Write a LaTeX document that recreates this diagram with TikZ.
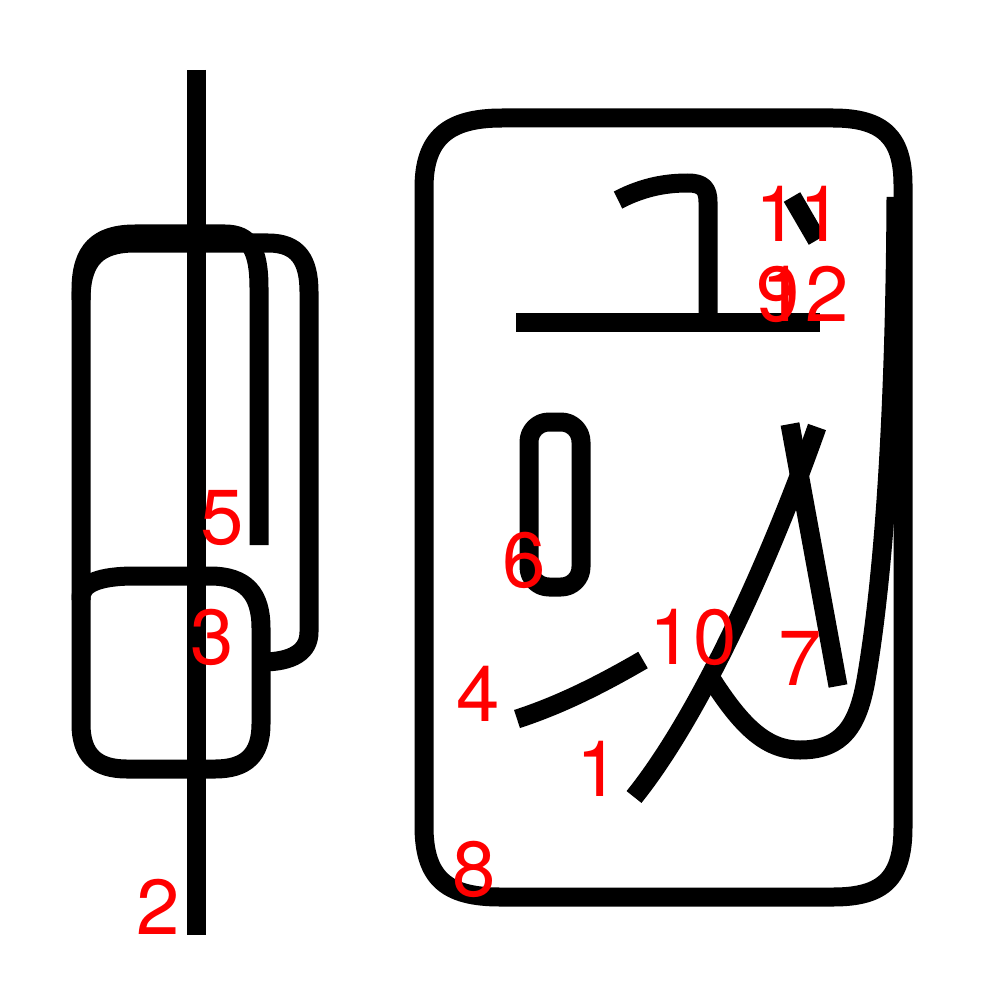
\documentclass[tikz,border=0pt]{standalone}
\usepackage{fontspec}
\setmainfont{TeX Gyre Heros}
\begin{document}
\begin{tikzpicture}[x=1pt,y=-1pt,
  stroke/.style={draw=black,line width=19pt,line cap=butt,line join=round},
  num/.style={text=red,anchor=base,inner sep=0pt,font=\fontsize{78}{78}\selectfont}]
\useasboundingbox (0,0) rectangle (1000,1000);
% left figure
\draw[stroke] (81,600) -- (81,290) .. controls (81,250) and (98,234) .. (135,234) -- (225,234) .. controls (250,234) and (259,250) .. (259,288) -- (259,545);
\draw[stroke] (81,300) .. controls (81,259) and (98,243) .. (135,243) -- (268,243) .. controls (298,243) and (309,260) .. (309,292) -- (309,632) .. controls (309,652) and (292,662) .. (262,662);
\draw[stroke] (81,660) -- (81,598) .. controls (81,583) and (100,576) .. (135,576) -- (210,576) .. controls (246,576) and (261,594) .. (261,628) -- (261,724) .. controls (261,755) and (246,769) .. (215,769) -- (127,769) .. controls (96,769) and (81,755) .. (81,724) -- cycle;
\draw[stroke] (196,70) -- (196,935);
% right figure
\draw[stroke] (424,826) -- (424,188) .. controls (424,138) and (448,118) .. (502,118) -- (833,118) .. controls (884,118) and (903,138) .. (903,185) -- (903,827) .. controls (903,878) and (884,897) .. (833,897) -- (500,897) .. controls (446,897) and (424,878) .. (424,826) -- cycle;
\draw[stroke] (516,322) -- (820,322);
\draw[stroke] (618,200) .. controls (645,186) and (668,183) .. (688,183) .. controls (703,183) and (708,189) .. (708,202) -- (708,318);
\draw[stroke] (792,197) -- (817,240);
\draw[stroke,rounded corners=20pt] (529,422) rectangle (581,587);
\draw[stroke] (517,719) .. controls (560,705) and (600,685) .. (643,660);
\draw[stroke] (634,797) .. controls (700,715) and (770,560) .. (817,427);
\draw[stroke] (790,424) -- (838,686);
\draw[stroke] (707,672) .. controls (740,725) and (765,750) .. (800,750) .. controls (843,750) and (858,725) .. (866,680) .. controls (885,570) and (895,400) .. (896,197);
% labels
\node[num] (n1) at (598,796) {1};
\node[num] (n2) at (158,934) {2};
\node[num] (n3) at (212,664) {3};
\node[num] (n4) at (478,721) {4};
\node[num] (n5) at (222,544) {5};
\node[num] (n6) at (524,587) {6};
\node[num] (n7) at (800,685) {7};
\node[num] (n8) at (474,896) {8};
\node[num] (n9) at (778,321) {9};
\node[num] (n10) at (693,664) {10};
\node[num] (n11) at (799,241) {11};
\node[num] (n12) at (805,321) {12};
\end{tikzpicture}
\end{document}
